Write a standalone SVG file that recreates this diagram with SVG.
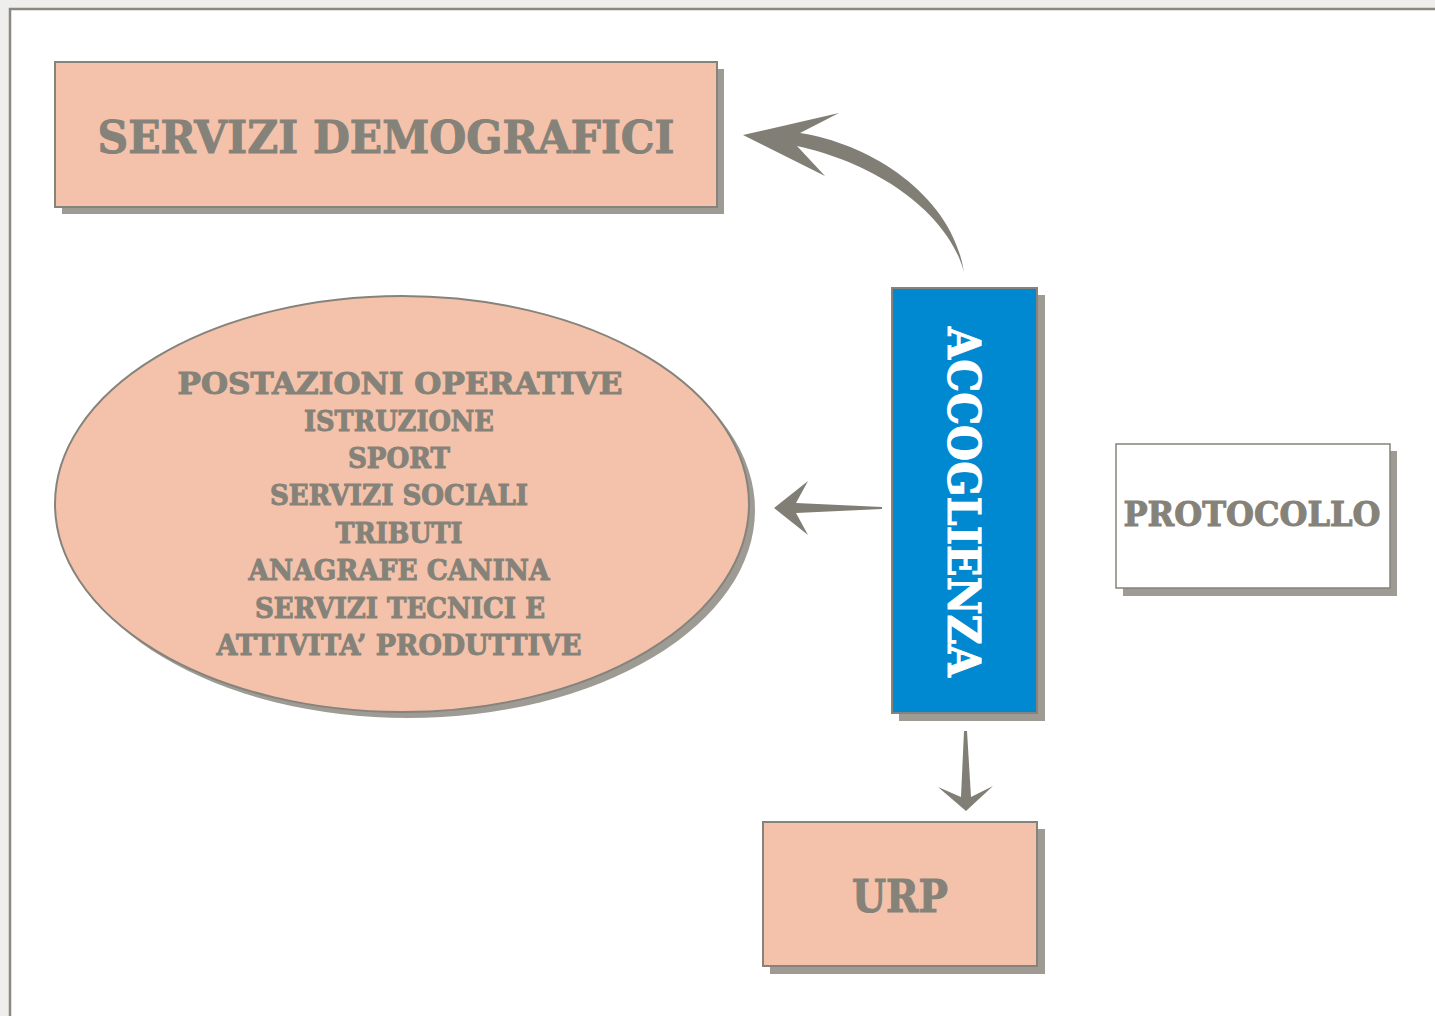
<svg xmlns="http://www.w3.org/2000/svg" width="1435" height="1016" viewBox="0 0 1435 1016">
<style>
.shadow{fill:#9d9b94}
.box{fill:#f4c2aa;stroke:#85837b;stroke-width:2}
.lbl{font-family:"DejaVu Serif","Liberation Serif",serif;font-weight:bold;fill:#858279;stroke:#858279;stroke-width:1;text-anchor:middle}
.white{fill:#ffffff;stroke:#ffffff}
.arrow{fill:#807e75}
</style>
<rect x="0" y="0" width="1435" height="1016" fill="#eeeeec"/>
<rect x="10" y="9" width="1440" height="1020" fill="#ffffff" stroke="#8a887f" stroke-width="2.5"/>

<g id="servizi-demografici">
<rect class="shadow" x="62" y="69" width="662" height="145"/>
<rect class="box" x="55" y="62" width="662" height="145"/>
<text class="lbl" x="386" y="153" font-size="45" textLength="577" lengthAdjust="spacingAndGlyphs">SERVIZI DEMOGRAFICI</text>
</g>

<g id="postazioni-operative">
<ellipse class="shadow" cx="408" cy="510" rx="347" ry="208"/>
<ellipse class="box" cx="402" cy="504" rx="347" ry="208"/>
<text class="lbl" x="400" y="394" font-size="30" textLength="445" lengthAdjust="spacingAndGlyphs">POSTAZIONI OPERATIVE</text>
<text class="lbl" x="399" y="431" font-size="28" textLength="190" lengthAdjust="spacingAndGlyphs">ISTRUZIONE</text>
<text class="lbl" x="399" y="468" font-size="28" textLength="102" lengthAdjust="spacingAndGlyphs">SPORT</text>
<text class="lbl" x="399" y="505" font-size="28" textLength="258" lengthAdjust="spacingAndGlyphs">SERVIZI SOCIALI</text>
<text class="lbl" x="399" y="543" font-size="28" textLength="127" lengthAdjust="spacingAndGlyphs">TRIBUTI</text>
<text class="lbl" x="399" y="580" font-size="28" textLength="301" lengthAdjust="spacingAndGlyphs">ANAGRAFE CANINA</text>
<text class="lbl" x="400" y="618" font-size="28" textLength="290" lengthAdjust="spacingAndGlyphs">SERVIZI TECNICI E</text>
<text class="lbl" x="399" y="655" font-size="28" textLength="365" lengthAdjust="spacingAndGlyphs">ATTIVITA’ PRODUTTIVE</text>
</g>

<g id="accoglienza">
<rect class="shadow" x="899" y="295" width="146" height="426"/>
<rect x="892" y="288" width="145" height="425" fill="#0088d0" stroke="#85837b" stroke-width="2"/>
<text class="lbl white" transform="translate(948,502) rotate(90)" x="0" y="0" font-size="44" textLength="350" lengthAdjust="spacingAndGlyphs">ACCOGLIENZA</text>
</g>

<g id="protocollo">
<rect class="shadow" x="1123" y="451" width="274" height="145"/>
<rect x="1116" y="444" width="274" height="144" fill="#ffffff" stroke="#85837b" stroke-width="1.5"/>
<text class="lbl" x="1252" y="526" font-size="33" textLength="257" lengthAdjust="spacingAndGlyphs">PROTOCOLLO</text>
</g>

<g id="urp">
<rect class="shadow" x="770" y="829" width="275" height="145"/>
<rect class="box" x="763" y="822" width="274" height="144"/>
<text class="lbl" x="900" y="912" font-size="44" textLength="96" lengthAdjust="spacingAndGlyphs">URP</text>
</g>

<g id="connectors">
<path class="arrow" d="M743,135 L839,113 L800,133 C872,144 952,196 964,272 C948,212 876,163 797,146 L825,176 Z"/>
<path class="arrow" d="M774,508 L808,481 L796,503 L882,507 L882,509 L796,513 L808,535 Z"/>
<path class="arrow" d="M964,731 L967,731 L971,797 L993,786 L966,811 L938,787 L961,797 Z"/>
</g>
</svg>
